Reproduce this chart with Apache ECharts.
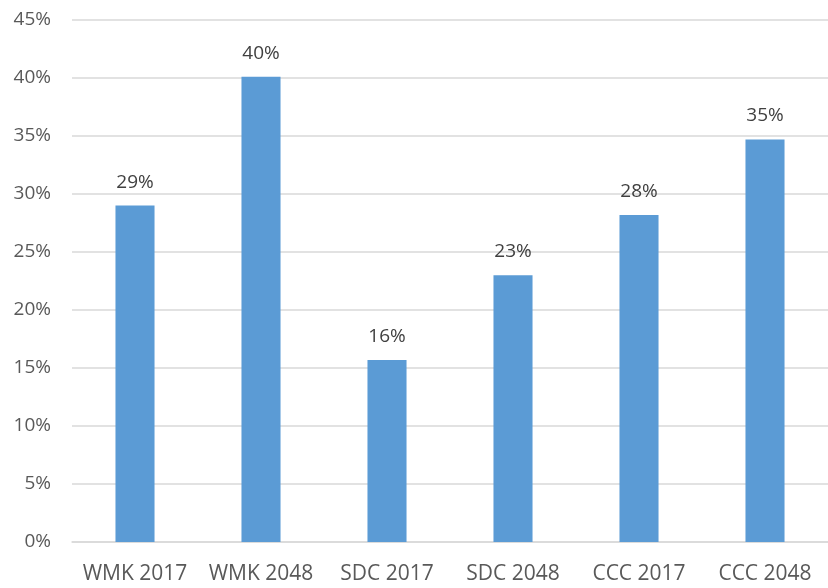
<!DOCTYPE html>
<html>
<head>
<meta charset="utf-8">
<script src="https://cdn.jsdelivr.net/npm/echarts@6/dist/echarts.min.js"></script>
<style>html,body{margin:0;padding:0;background:#fff}#c{width:828px;height:588px}</style>
</head>
<body>
<div id="c"></div>
<script>
var categories = ['WMK 2017', 'WMK 2048', 'SDC 2017', 'SDC 2048', 'CCC 2017', 'CCC 2048'];
var values = [29.0, 40.1, 15.7, 23.0, 28.2, 34.7];
var yTicks = [0, 5, 10, 15, 20, 25, 30, 35, 40, 45];

var chart = echarts.init(document.getElementById('c'));
chart.setOption({
  animation: false,
  grid: { left: 72, right: -10, top: 20, bottom: 46, containLabel: false },
  xAxis: {
    type: 'category',
    data: categories,
    axisLine: { show: true, lineStyle: { color: '#d9d9d9', width: 1.5 } },
    axisTick: { show: false },
    axisLabel: { interval: 0, hideOverlap: false, color: '#595959', fontFamily: 'Open Sans', fontSize: 21, margin: 22 }
  },
  yAxis: {
    type: 'value',
    min: yTicks[0],
    max: yTicks[yTicks.length - 1],
    interval: 5,
    axisLine: { show: false },
    axisTick: { show: false },
    axisLabel: { color: '#595959', fontFamily: 'Open Sans', fontSize: 19, margin: 21,
      formatter: function (v) { return v + '%'; } },
    splitLine: { lineStyle: { color: '#d9d9d9', width: 1.5 } }
  },
  series: [{
    type: 'bar',
    data: values,
    barWidth: '31%',
    itemStyle: { color: '#5b9bd5' },
    label: {
      show: true, position: 'top', distance: 14,
      color: '#404040', fontFamily: 'Open Sans', fontSize: 19,
      formatter: function (p) { return Math.round(p.value) + '%'; }
    }
  }]
});
</script>
</body>
</html>
